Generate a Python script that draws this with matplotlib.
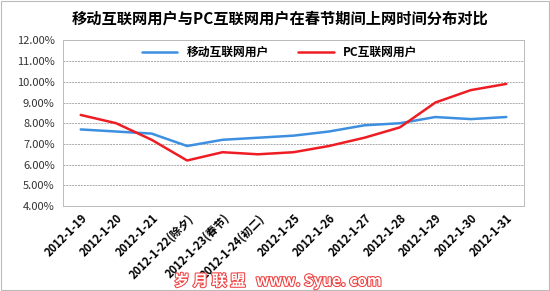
import matplotlib
matplotlib.use("Agg")
import matplotlib.pyplot as plt
import matplotlib.patheffects as pe
from matplotlib.ticker import FuncFormatter

plt.rcParams['font.family'] = ['Noto Sans CJK SC', 'DejaVu Sans']

dates = ["2012-1-19", "2012-1-20", "2012-1-21", "2012-1-22(除夕)", "2012-1-23(春节)",
         "2012-1-24(初二)", "2012-1-25", "2012-1-26", "2012-1-27", "2012-1-28",
         "2012-1-29", "2012-1-30", "2012-1-31"]
mobile = [7.7, 7.6, 7.5, 6.9, 7.2, 7.3, 7.4, 7.6, 7.9, 8.0, 8.3, 8.2, 8.3]
pc = [8.4, 8.0, 7.2, 6.2, 6.6, 6.5, 6.6, 6.9, 7.3, 7.8, 9.0, 9.6, 9.9]
yticks = [4, 5, 6, 7, 8, 9, 10, 11, 12]

fig = plt.figure(figsize=(5.5, 2.91), dpi=100)
ax = fig.add_axes([0.1145, 0.292, 0.8382, 0.569])

x = list(range(len(dates)))
ax.plot(x, mobile, color='#3D8FE0', lw=1.8, label='移动互联网用户', solid_capstyle='round')
ax.plot(x, pc, color='#EE1D24', lw=1.8, label='PC互联网用户', solid_capstyle='round')

ax.set_xlim(-0.5, len(dates) - 0.5)
ax.set_ylim(4, 12)
ax.set_yticks(yticks)
ax.yaxis.set_major_formatter(FuncFormatter(lambda v, p: f"{v:.2f}%"))
ax.set_xticks(x)
ax.set_xticklabels(dates, rotation=45, ha='right', rotation_mode='anchor',
                   fontsize=8, fontweight='bold')
ax.tick_params(axis='y', labelsize=8, length=0, pad=6, colors='#333333')
ax.tick_params(axis='x', length=0, pad=4)
ax.grid(axis='y', color='#AAAAAA', ls=(0, (2, 1)), lw=0.7)
for s in ax.spines.values():
    s.set_color('#BBBBBB')
    s.set_linestyle((0, (1, 1)))
    s.set_linewidth(0.7)

leg = ax.legend(loc='upper center', ncol=2, frameon=False,
                bbox_to_anchor=(0.47, 1.03), handlelength=3, columnspacing=2.5,
                prop={'weight': 'bold', 'size': 8.5})

fig.text(0.51, 0.935, "移动互联网用户与PC互联网用户在春节期间上网时间分布对比",
         ha='center', va='center', fontsize=11, fontweight='bold')

fig.text(0.505, 0.035, "岁 月 联 盟   www. Syue. com", ha='center', va='center',
         fontsize=11, color='white', fontweight='bold',
         path_effects=[pe.withStroke(linewidth=1.5, foreground='#F04040')])

border = plt.Rectangle((0.002, 0.003), 0.996, 0.994, transform=fig.transFigure,
                       fill=False, edgecolor='#BBBBBB', lw=0.8)
fig.add_artist(border)

fig.savefig("out.png", dpi=100)
